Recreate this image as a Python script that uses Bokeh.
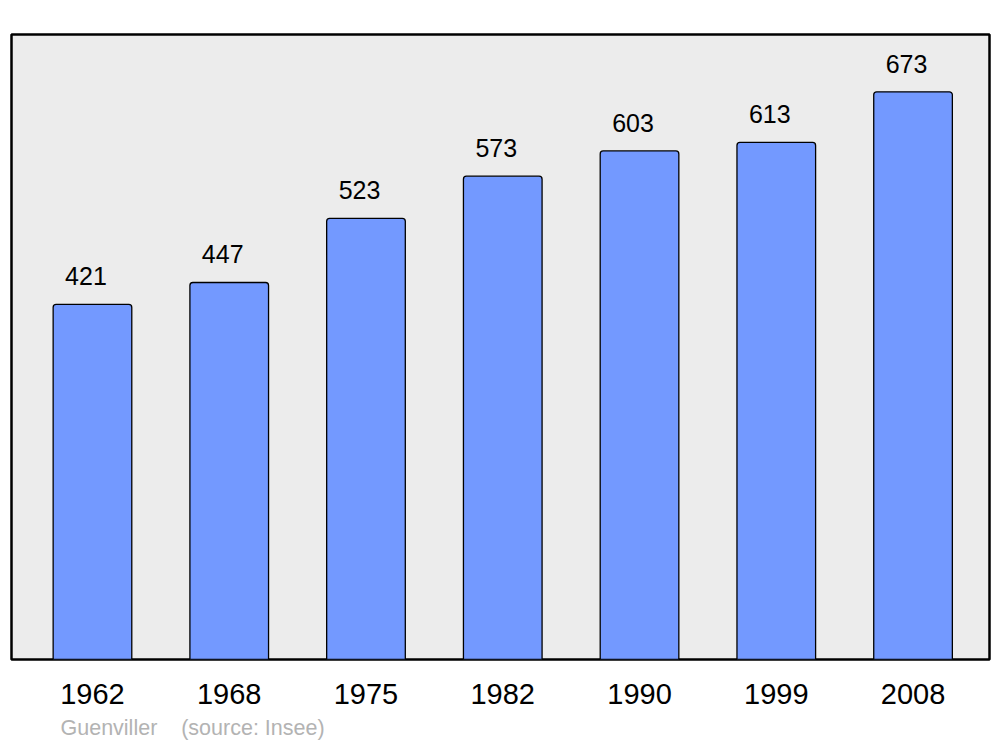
from bokeh.plotting import figure
from bokeh.models import ColumnDataSource, FixedTicker, Range1d, Title
from bokeh.core.properties import value
from bokeh.embed import file_html
from bokeh.resources import INLINE

years = ["1962", "1968", "1975", "1982", "1990", "1999", "2008"]
population = [421, 447, 523, 573, 603, 613, 673]
commune = "Guenviller"
source_text = "(source: Insee)"

idx = list(range(len(years)))
src = ColumnDataSource(dict(x=idx, top=population, label=[str(v) for v in population]))

FONT = "Liberation Sans"

p = figure(width=1000, height=747, output_backend="svg", toolbar_location=None,
           x_range=Range1d(-0.592, 6.559), y_range=Range1d(0, 741),
           min_border_left=11, min_border_right=11, min_border_top=34, min_border_bottom=87)
p.background_fill_color = "#ececec"
p.border_fill_color = "white"
p.outline_line_color = "black"
p.outline_line_width = 2.5
p.grid.visible = False
p.yaxis.visible = False

p.vbar(x="x", top="top", bottom=0, width=0.575, source=src, fill_color="#7399ff",
       line_color="black", line_width=1.3,
       border_radius=dict(top_left=3, top_right=3, bottom_right=0, bottom_left=0))

p.text(x="x", y="top", text="label", source=src, text_align="center", text_baseline="middle",
       y_offset=-28, x_offset=-6.5, text_font=value(FONT), text_font_size="25px", text_color="black")

ax = p.xaxis[0]
ax.ticker = FixedTicker(ticks=idx)
ax.major_label_overrides = {i: y for i, y in zip(idx, years)}
ax.axis_line_color = None
ax.major_tick_line_color = None
ax.minor_tick_line_color = None
ax.major_tick_out = 0
ax.major_tick_in = 0
ax.major_label_standoff = 24
ax.major_label_text_font = FONT
ax.major_label_text_font_size = "29px"
ax.major_label_text_color = "black"

nb = "\u00a0"
p.add_layout(Title(text=commune + nb * 4 + source_text, align="left", offset=49,
                   text_font=FONT, text_font_size="21.5px", text_color="#b3b3b3",
                   text_font_style="normal", standoff=15), "below")

open("out.html", "w").write(file_html(p, INLINE))
